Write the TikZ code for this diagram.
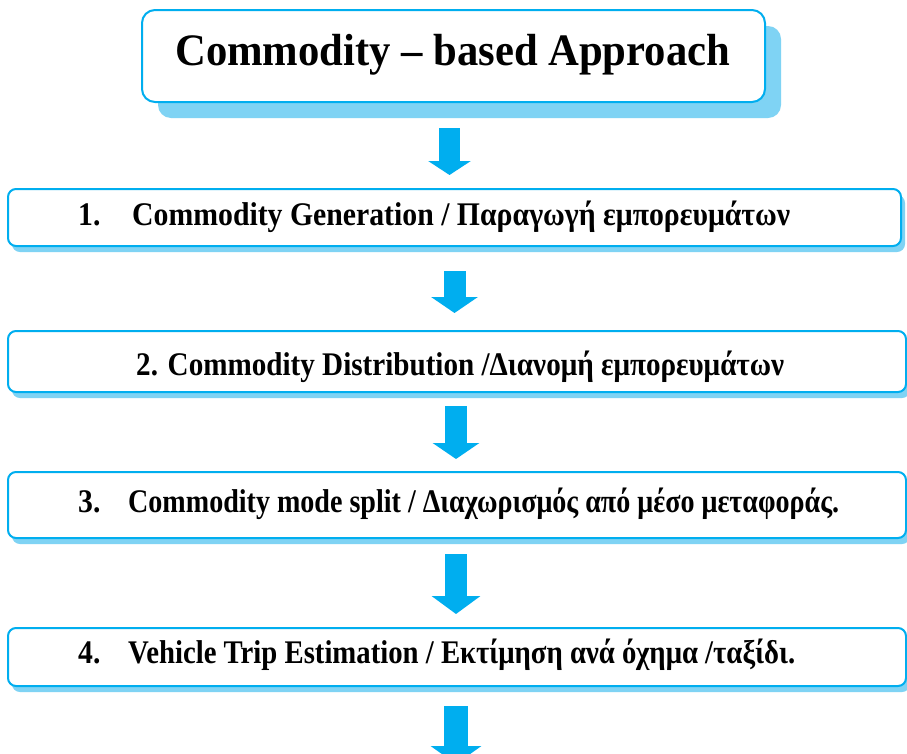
\documentclass[tikz,border=0pt]{standalone}
\usepackage{fontspec}
\setmainfont{Liberation Serif}
\usetikzlibrary{shadows,arrows.meta,calc}
\definecolor{cyanline}{HTML}{00AEEF}
\definecolor{shadowblue}{HTML}{7FD3F4}
\begin{document}
\begin{tikzpicture}[x=1pt,y=-1pt,
  stepbox/.style={draw=cyanline, line width=2pt, fill=white, rounded corners=8pt, inner sep=0pt,
    drop shadow={shadow xshift=4pt, shadow yshift=-6pt, fill=shadowblue, opacity=1}},
  titlebox/.style={draw=cyanline, line width=2pt, fill=white, rounded corners=13pt, inner sep=0pt,
    drop shadow={shadow xshift=16pt, shadow yshift=-16pt, fill=shadowblue, opacity=1}},
  flow/.style={draw=cyanline, line width=22pt, -{Triangle[width=46pt,length=16pt]}},
  lbl/.style={anchor=base west, inner sep=0pt, font=\bfseries\fontsize{33}{36}\selectfont},
]
\useasboundingbox (0,0) rectangle (907,753);
\clip (0,0) rectangle (907,753);
\fill[white] (0,0) rectangle (907,753);

% boxes
\node[titlebox, minimum width=623pt, minimum height=92pt] (t) at (453.5,56) {};
\node[stepbox, minimum width=893pt, minimum height=57pt] (b1) at (454.5,217.5) {};
\node[stepbox, minimum width=898pt, minimum height=61pt] (b2) at (457,361.5) {};
\node[stepbox, minimum width=898pt, minimum height=66pt] (b3) at (457,505) {};
\node[stepbox, minimum width=898pt, minimum height=58pt] (b4) at (457,657) {};

% texts
\node[anchor=base west, inner sep=0pt, font=\bfseries\fontsize{45}{50}\selectfont] (tt) at (175,65)
  {\resizebox{555pt}{\height}{Commodity – based Approach}};
\node[lbl] (n1) at (78,225) {\scalebox{0.9}[1]{1.}};
\node[lbl] (l1) at (132,225) {\resizebox{658pt}{\height}{Commodity Generation / Παραγωγή εμπορευμάτων}};
\node[lbl] (l2) at (136,375) {\resizebox{648pt}{\height}{2. Commodity Distribution /Διανομή εμπορευμάτων}};
\node[lbl] (n3) at (78,512) {\scalebox{0.9}[1]{3.}};
\node[lbl] (l3) at (128,512) {\resizebox{711pt}{\height}{Commodity mode split / Διαχωρισμός από μέσο μεταφοράς.}};
\node[lbl] (n4) at (78,663) {\scalebox{0.9}[1]{4.}};
\node[lbl] (l4) at (128,663) {\resizebox{667pt}{\height}{Vehicle Trip Estimation / Εκτίμηση ανά όχημα /ταξίδι.}};

% arrows
\coordinate (s1) at ($(t.south)+(-4,25)$);
\draw[flow, line width=21pt, -{Triangle[width=42pt,length=14pt]}, shorten >=13pt] (s1) -- (s1 |- b1.north);
\coordinate (s2) at ($(b1.south)+(0,24)$);
\draw[flow, shorten >=17pt] (s2) -- (s2 |- b2.north);
\coordinate (s3) at ($(b2.south)+(-1,13)$);
\draw[flow, shorten >=12pt] (s3) -- (s3 |- b3.north);
\coordinate (s4) at ($(b3.south)+(-1,15)$);
\draw[flow, -{Triangle[width=48pt,length=18pt]}, shorten >=13pt] (s4) -- (s4 |- b4.north);
\coordinate (s5) at ($(b4.south)+(-1,19)$);
\coordinate (e5) at ($(s5)+(0,58)$);
\draw[flow, line width=24pt, -{Triangle[width=50pt,length=18pt]}] (s5) -- (e5);
\end{tikzpicture}
\end{document}
